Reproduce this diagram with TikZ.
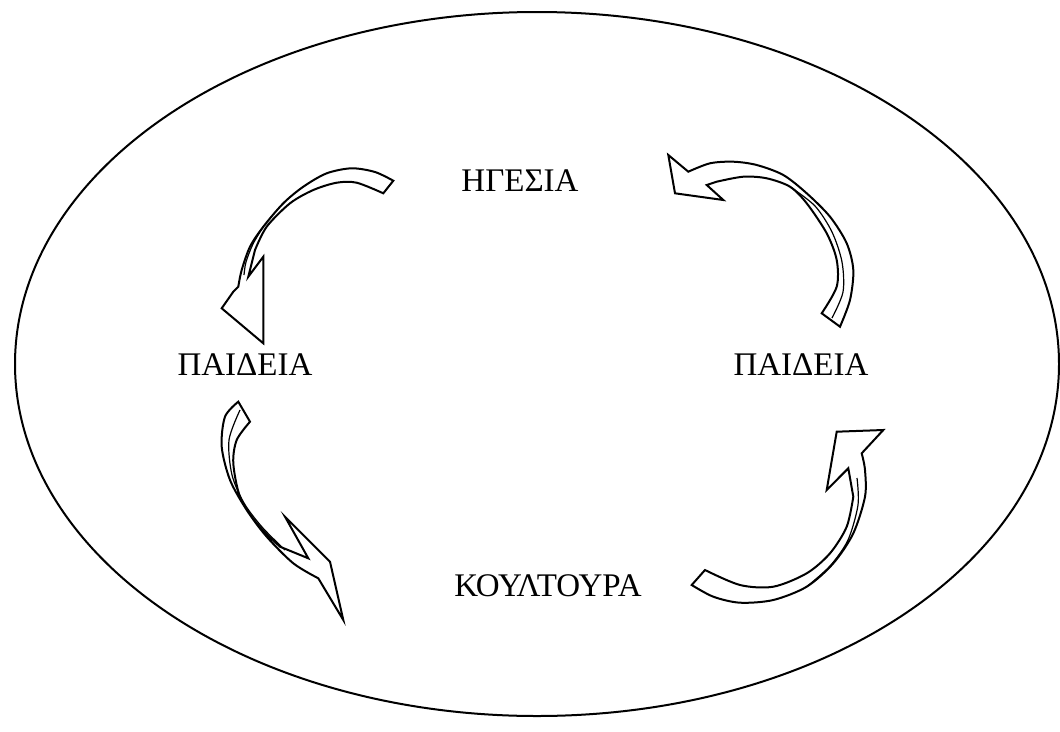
\documentclass[tikz,border=0pt]{standalone}
\usepackage{fontspec}
\setmainfont{Liberation Serif}
\begin{document}
\begin{tikzpicture}[x=1pt,y=-1pt,
  lbl/.style={font=\fontsize{33}{38}\selectfont, inner sep=0pt, anchor=center},
  blockarrow/.style={draw=black, line width=2pt, fill=white, line join=miter},
  twist/.style={draw=black, line width=1.2pt},
  rim/.style={draw=black, line width=2pt}]
\useasboundingbox (0,0) rectangle (1060,731);
\fill[white] (0,0) rectangle (1060,731);
\draw[rim] (537,364) ellipse [x radius=522, y radius=352];

\node[lbl] (hgesia) at (520,181) {ΗΓΕΣΙΑ};
\node[lbl] (paidL) at (245,365) {ΠΑΙΔΕΙΑ};
\node[lbl] (paidR) at (801,365) {ΠΑΙΔΕΙΑ};
\node[lbl] (koult) at (548,586) {ΚΟΥΛΤΟΥΡΑ};

% arrow 1: top-left, from HGESIA down to left PAIDEIA
\draw[blockarrow]
  plot[smooth] coordinates {(393.3,180.7) (375,172) (351.7,168.3) (326.7,173.3) (303.3,186.7) (283.3,203.3) (263.3,226.7) (250,246.7) (241.7,270) (238.3,286.7)}
  -- (233.3,291.7) -- (221.7,308.3) -- (263.3,343.3) -- (263.3,256.7) -- (248.3,276.7)
  -- plot[smooth] coordinates {(255,250) (266.7,226.7) (290,203.3) (313.3,190) (336.7,182.7) (356.7,182.7) (383.3,193.3)}
  -- cycle;
\draw[twist] plot[smooth] coordinates {(263.3,226.7) (253,244) (246,262) (244,275)};

% arrow 2: top-right, from right PAIDEIA up to HGESIA
\draw[blockarrow]
  plot[smooth] coordinates {(840,326.7) (850,300) (853.3,270) (846.7,243.3) (830,216.7) (806.7,193.3) (783.3,175) (756.7,165) (733.3,161.7) (710,163.3) (688.3,171.7)}
  -- (668.3,155) -- (675,193.3) -- (723.3,200) -- (706.7,185)
  -- plot[smooth] coordinates {(716.7,181.7) (743.3,176.7) (766.7,178.3) (790,186.7) (806.7,203.3) (826.7,233.3) (836.7,260) (836.7,286.7) (821.7,313.3)}
  -- cycle;
\draw[twist] plot[smooth] coordinates {(790,186.7) (815,206) (832,232) (842,262) (843,292) (832,318)};

% arrow 3: bottom-left, from left PAIDEIA down to KOULTOURA
\draw[blockarrow]
  plot[smooth] coordinates {(238.3,401.7) (225,416.7) (221.7,446.7) (230,480) (246.7,510) (266.7,536.7) (293.3,563.3) (318.3,578.3)}
  -- (343.3,620) -- (330,561.7) -- (285,516.7) -- (308.3,558.3)
  -- plot[smooth] coordinates {(280,546.7) (256.7,523.3) (240,496.7) (233.3,463.3) (236.7,440) (250,421.7)}
  -- cycle;
\draw[twist] plot[smooth] coordinates {(240,410) (229,440) (232,475) (244,503) (262,527) (285,550)};

% arrow 4: bottom-right, from KOULTOURA up to right PAIDEIA
\draw[blockarrow]
  plot[smooth] coordinates {(691.7,585) (713.3,596.7) (740,602.7) (773.3,600) (806.7,586.7) (833.3,563.3) (853.3,533.3) (865,496.7) (865,470) (861.7,453.3)}
  -- (883.3,430) -- (836.7,431.7) -- (826.7,490) -- (848.3,468.3)
  -- plot[smooth] coordinates {(853.3,496.7) (846.7,526.7) (830,553.3) (806.7,573.3) (773.3,586.7) (740,585) (705,570)}
  -- cycle;
\draw[twist] plot[smooth] coordinates {(806.7,586.7) (830,566) (848,540) (858,505) (857,478)};
\end{tikzpicture}
\end{document}
